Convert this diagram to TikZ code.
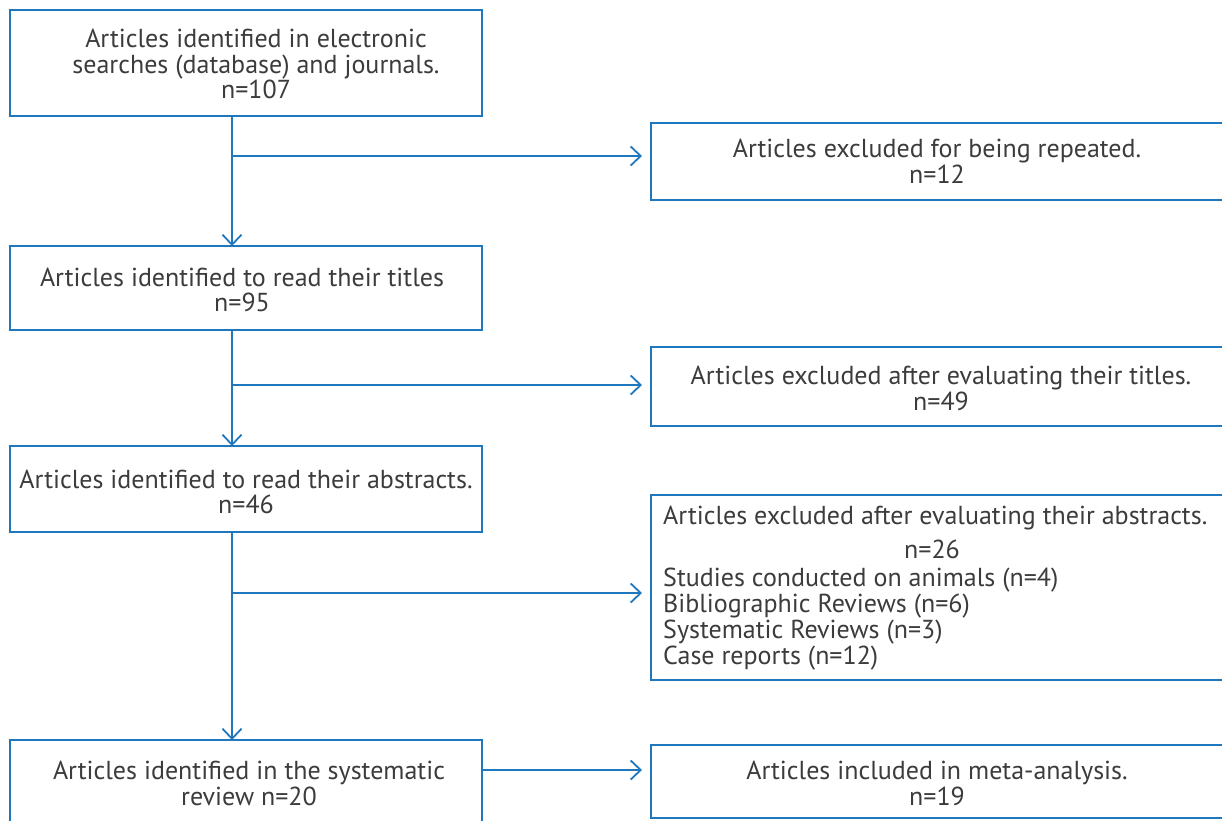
\documentclass[tikz,border=0pt]{standalone}
\usepackage{fontspec}
\setmainfont{PT Sans}
\usetikzlibrary{arrows.meta}
\definecolor{fblue}{HTML}{1F78BE}
\definecolor{ftext}{HTML}{3C3C3C}
\begin{document}
\begin{tikzpicture}[x=1pt,y=-1pt,
  box/.style={draw=fblue, line width=1.8pt, inner sep=0pt, outer sep=0pt},
  txt/.style={text=ftext, font=\fontsize{26}{25.8}\selectfont, align=center, inner sep=0pt},
  ltxt/.style={text=ftext, font=\fontsize{26}{25.8}\selectfont, align=left, inner sep=0pt},
  conn/.style={draw=fblue, line width=1.8pt, -{Straight Barb[length=10pt,width=19pt,line width=1.8pt]}}]
\useasboundingbox (0,0) rectangle (1222,820);
\clip (0,0) rectangle (1222,820);
\fill[white] (0,0) rectangle (1222,820);
% left boxes
\node[box, minimum width=472pt, minimum height=106pt] (b1) at (246,63) {};
\node[box, minimum width=472pt, minimum height=84pt] (b2) at (246,288) {};
\node[box, minimum width=472pt, minimum height=86pt] (b3) at (246,489) {};
\node[box, minimum width=472pt, minimum height=90pt] (b4) at (246,785) {};
% right boxes
\node[box, minimum width=600pt, minimum height=77pt, anchor=west] (r1) at (651,161.5) {};
\node[box, minimum width=600pt, minimum height=79pt, anchor=west] (r2) at (651,386.5) {};
\node[box, minimum width=600pt, minimum height=185pt, anchor=west] (r3) at (651,587.5) {};
\node[box, minimum width=600pt, minimum height=73pt, anchor=west] (r4) at (651,781.5) {};
% texts
\node[txt] (t1) at (256,64) {Articles identified in electronic\\searches (database) and journals.\\n=107};
\node[txt] (t2) at (242,290) {Articles identified to read their titles\\n=95};
\node[txt] (t3) at (246,492) {Articles identified to read their abstracts.\\n=46};
\node[txt] (t4) at (249,783) {Articles identified in the systematic\\review n=20};
\node[txt] (u1) at (937,161) {Articles excluded for being repeated.\\n=12};
\node[txt] (u2) at (941,388.5) {Articles excluded after evaluating their titles.\\n=49};
\node[ltxt, anchor=west] (u3a) at (663,518) {Articles excluded after evaluating their abstracts.};
\node[txt] (u3b) at (932,549) {n=26};
\node[ltxt, anchor=north west] (u3c) at (663,568) {Studies conducted on animals (n=4)\\Bibliographic Reviews (n=6)\\Systematic Reviews (n=3)\\Case reports (n=12)};
\node[txt] (u4) at (937,783) {Articles included in meta-analysis.\\n=19};
% connectors
\coordinate (j1) at (232,156);
\coordinate (j2) at (232,385);
\coordinate (j3) at (232,593);
\coordinate (j4) at (482,770);
\draw[conn] (j1 |- b1.south) -- (j1 |- b2.north);
\draw[conn] (j2 |- b2.south) -- (j2 |- b3.north);
\draw[conn] (j3 |- b3.south) -- (j3 |- b4.north);
\draw[conn, shorten >=9pt] (j1) -- (j1 -| r1.west);
\draw[conn, shorten >=9pt] (j2) -- (j2 -| r2.west);
\draw[conn, shorten >=9pt] (j3) -- (j3 -| r3.west);
\draw[conn, shorten >=9pt] (j4) -- (j4 -| r4.west);
\end{tikzpicture}
\end{document}
